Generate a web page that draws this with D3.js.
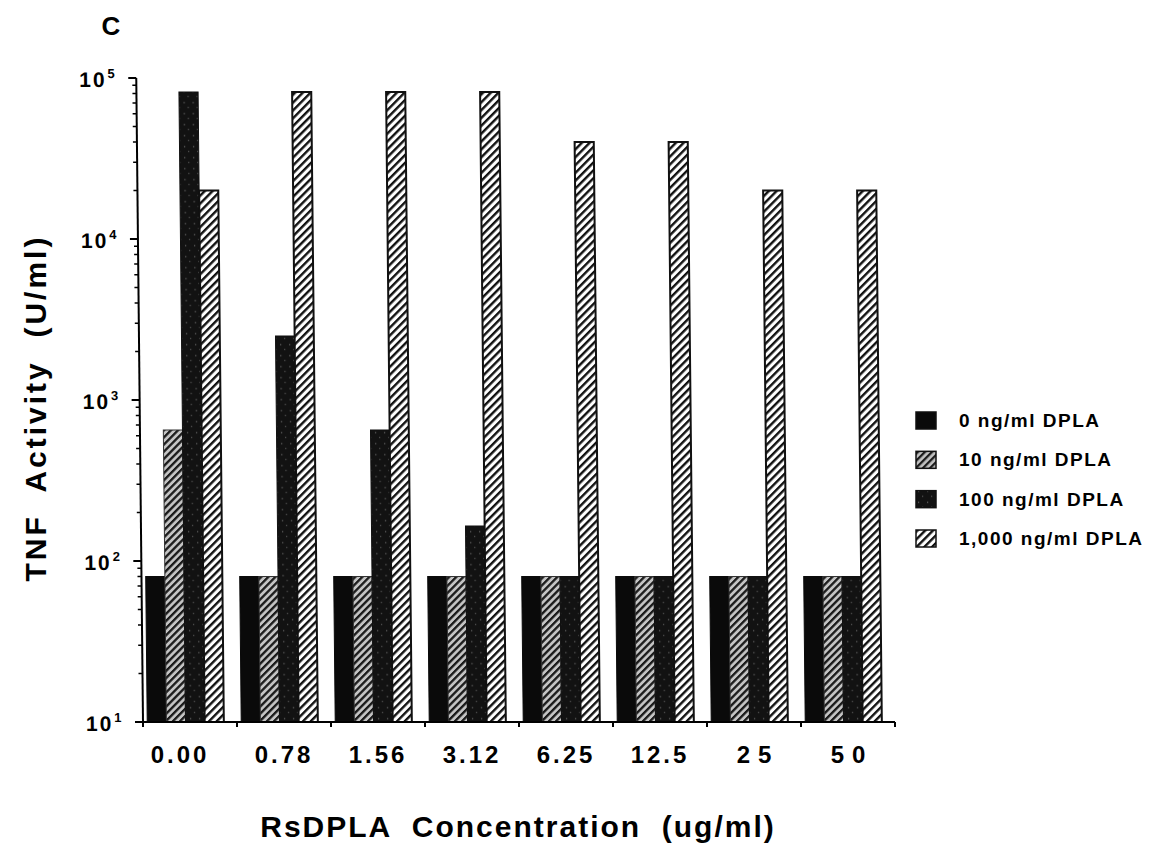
<!DOCTYPE html>
<html>
<head>
<meta charset="utf-8">
<script src="https://cdn.jsdelivr.net/npm/d3@7"></script>
<style>
  html, body { margin: 0; padding: 0; background: #fff; }
  svg { display: block; font-family: "Liberation Sans", Arial, Helvetica, sans-serif; font-weight: bold; }
</style>
</head>
<body>
<svg id="chart" width="1150" height="846"></svg>
<script>
// ---- data ----
const categories = ["0.00", "0.78", "1.56", "3.12", "6.25", "12.5", "25", "50"];
const series = ["0 ng/ml DPLA", "10 ng/ml DPLA", "100 ng/ml DPLA", "1,000 ng/ml DPLA"];
const dpla0    = [80, 80, 80, 80, 80, 80, 80, 80];
const dpla10   = [650, 80, 80, 80, 80, 80, 80, 80];
const dpla100  = [82000, 2500, 650, 165, 80, 80, 80, 80];
const dpla1000 = [20000, 82000, 82000, 82000, 40000, 40000, 20000, 20000];
const yTickValues = [10, 100, 1000, 10000, 100000];
const yTickExponents = ["1", "2", "3", "4", "5"];

const seriesValues = [dpla0, dpla10, dpla100, dpla1000];

// ---- layout ----
const svg = d3.select("#chart");
const plotLeft = 143, plotRight = 895, plotTop = 78, plotBottom = 722;
// the scanned original is slightly sheared: tops lean left
const shear = `translate(0,${plotBottom}) skewX(0.6) translate(0,${-plotBottom})`;

const y = d3.scaleLog().domain([10, 100000]).range([plotBottom, plotTop]);
const x0 = d3.scaleBand().domain(categories).range([plotLeft, plotRight]).paddingInner(0).paddingOuter(0);
const bw = x0.bandwidth();
const x1 = d3.scaleBand().domain(series).range([bw * 0.045, bw * 0.86]).padding(0);

// ---- patterns ----
const defs = svg.append("defs");
const p10 = defs.append("pattern").attr("id", "p10").attr("patternUnits", "userSpaceOnUse")
  .attr("width", 5).attr("height", 5).attr("patternTransform", "rotate(45)");
p10.append("rect").attr("width", 5).attr("height", 5).attr("fill", "#c4c4c4");
p10.append("rect").attr("x", 0).attr("width", 2.3).attr("height", 5).attr("fill", "#1a1a1a");
const p100 = defs.append("pattern").attr("id", "p100").attr("patternUnits", "userSpaceOnUse")
  .attr("width", 9).attr("height", 11);
p100.append("rect").attr("width", 9).attr("height", 11).attr("fill", "#121212");
p100.append("rect").attr("x", 2).attr("y", 3).attr("width", 1.2).attr("height", 1.2).attr("fill", "#666");
p100.append("rect").attr("x", 6).attr("y", 8).attr("width", 1.2).attr("height", 1.2).attr("fill", "#555");
const p1000 = defs.append("pattern").attr("id", "p1000").attr("patternUnits", "userSpaceOnUse")
  .attr("width", 5.5).attr("height", 5.5).attr("patternTransform", "rotate(45)");
p1000.append("rect").attr("width", 5.5).attr("height", 5.5).attr("fill", "#fff");
p1000.append("rect").attr("x", 0).attr("width", 2.4).attr("height", 5.5).attr("fill", "#111");

const fills = ["#0a0a0a", "url(#p10)", "url(#p100)", "url(#p1000)"];
const strokes = ["#0a0a0a", "#333", "#111", "#111"];

const plot = svg.append("g").attr("transform", shear);

// ---- bars ----
const groups = plot.append("g").selectAll("g")
  .data(categories)
  .join("g")
  .attr("transform", d => `translate(${x0(d)},0)`);

groups.selectAll("rect")
  .data((c, i) => series.map((s, j) => ({ s, j, v: seriesValues[j][i] })))
  .join("rect")
  .attr("x", d => x1(d.s))
  .attr("y", d => y(d.v))
  .attr("width", x1.bandwidth())
  .attr("height", d => plotBottom - y(d.v))
  .attr("fill", d => fills[d.j])
  .attr("stroke", d => strokes[d.j])
  .attr("stroke-width", d => d.j === 3 ? 2 : 1);

// ---- y axis ----
const yAxis = plot.append("g");
yAxis.append("line").attr("x1", plotLeft).attr("x2", plotLeft).attr("y1", plotTop).attr("y2", plotBottom)
  .attr("stroke", "#000").attr("stroke-width", 2);
const minorTicks = [];
for (let e = 1; e < 5; e++) for (let m = 2; m <= 9; m++) minorTicks.push(m * Math.pow(10, e));
yAxis.selectAll("line.minor").data(minorTicks).join("line").attr("class", "minor")
  .attr("x1", plotLeft - 4).attr("x2", plotLeft).attr("y1", d => y(d)).attr("y2", d => y(d))
  .attr("stroke", "#000").attr("stroke-width", 1.5);
yAxis.selectAll("line.major").data(yTickValues).join("line").attr("class", "major")
  .attr("x1", plotLeft - 8).attr("x2", plotLeft).attr("y1", d => y(d)).attr("y2", d => y(d))
  .attr("stroke", "#000").attr("stroke-width", 2);
const yLab = yAxis.selectAll("text.ylab").data(yTickValues).join("text").attr("class", "ylab")
  .attr("x", 86).attr("y", d => y(d) + 9)
  .attr("font-size", 21).attr("letter-spacing", 2).attr("fill", "#000");
yLab.append("tspan").text("10");
yLab.append("tspan").attr("dx", 1).attr("dy", -9).attr("font-size", 13).attr("letter-spacing", 0)
  .text((d, i) => yTickExponents[i]);

// ---- x axis ----
const xAxis = svg.append("g");
xAxis.append("line").attr("x1", plotLeft).attr("x2", plotRight).attr("y1", plotBottom).attr("y2", plotBottom)
  .attr("stroke", "#000").attr("stroke-width", 2);
xAxis.selectAll("line.xt").data(categories.concat(["end"])).join("line").attr("class", "xt")
  .attr("x1", (d, i) => i < categories.length ? x0(d) : plotRight)
  .attr("x2", (d, i) => i < categories.length ? x0(d) : plotRight)
  .attr("y1", plotBottom).attr("y2", plotBottom + 5)
  .attr("stroke", "#000").attr("stroke-width", 2);
xAxis.selectAll("text.xl").data(categories).join("text").attr("class", "xl")
  .attr("x", (d, i) => x0(d) + bw / 2 + (d.length <= 2 ? 4 : 0) + (i === 0 ? -10 : 0)).attr("y", 763)
  .attr("text-anchor", "middle").attr("font-size", 24)
  .attr("letter-spacing", d => d.length <= 2 ? 8 : 3)
  .text(d => d);

// ---- titles ----
svg.append("text").attr("x", 111).attr("y", 35).attr("text-anchor", "middle")
  .attr("font-size", 26).text("C");
svg.append("text").attr("transform", `translate(46,408) rotate(-90)`)
  .attr("text-anchor", "middle").attr("font-size", 30).attr("letter-spacing", 3)
  .style("white-space", "pre").text("TNF  Activity  (U/ml)");
svg.append("text").attr("x", 518).attr("y", 837).attr("text-anchor", "middle")
  .attr("font-size", 30).attr("letter-spacing", 2)
  .style("white-space", "pre").text("RsDPLA  Concentration  (ug/ml)");

// ---- legend ----
const legendY = d3.scalePoint().domain(series).range([420, 538]);
const leg = svg.append("g").selectAll("g").data(series).join("g")
  .attr("transform", d => `translate(916,${legendY(d)})`);
leg.append("rect").attr("x", 0).attr("y", -8).attr("width", 20).attr("height", 17)
  .attr("fill", (d, i) => fills[i]).attr("stroke", "#111").attr("stroke-width", 1.5);
leg.append("text").attr("x", 43).attr("y", 7).attr("font-size", 19).attr("letter-spacing", 1.5).text(d => d);
</script>
</body>
</html>
